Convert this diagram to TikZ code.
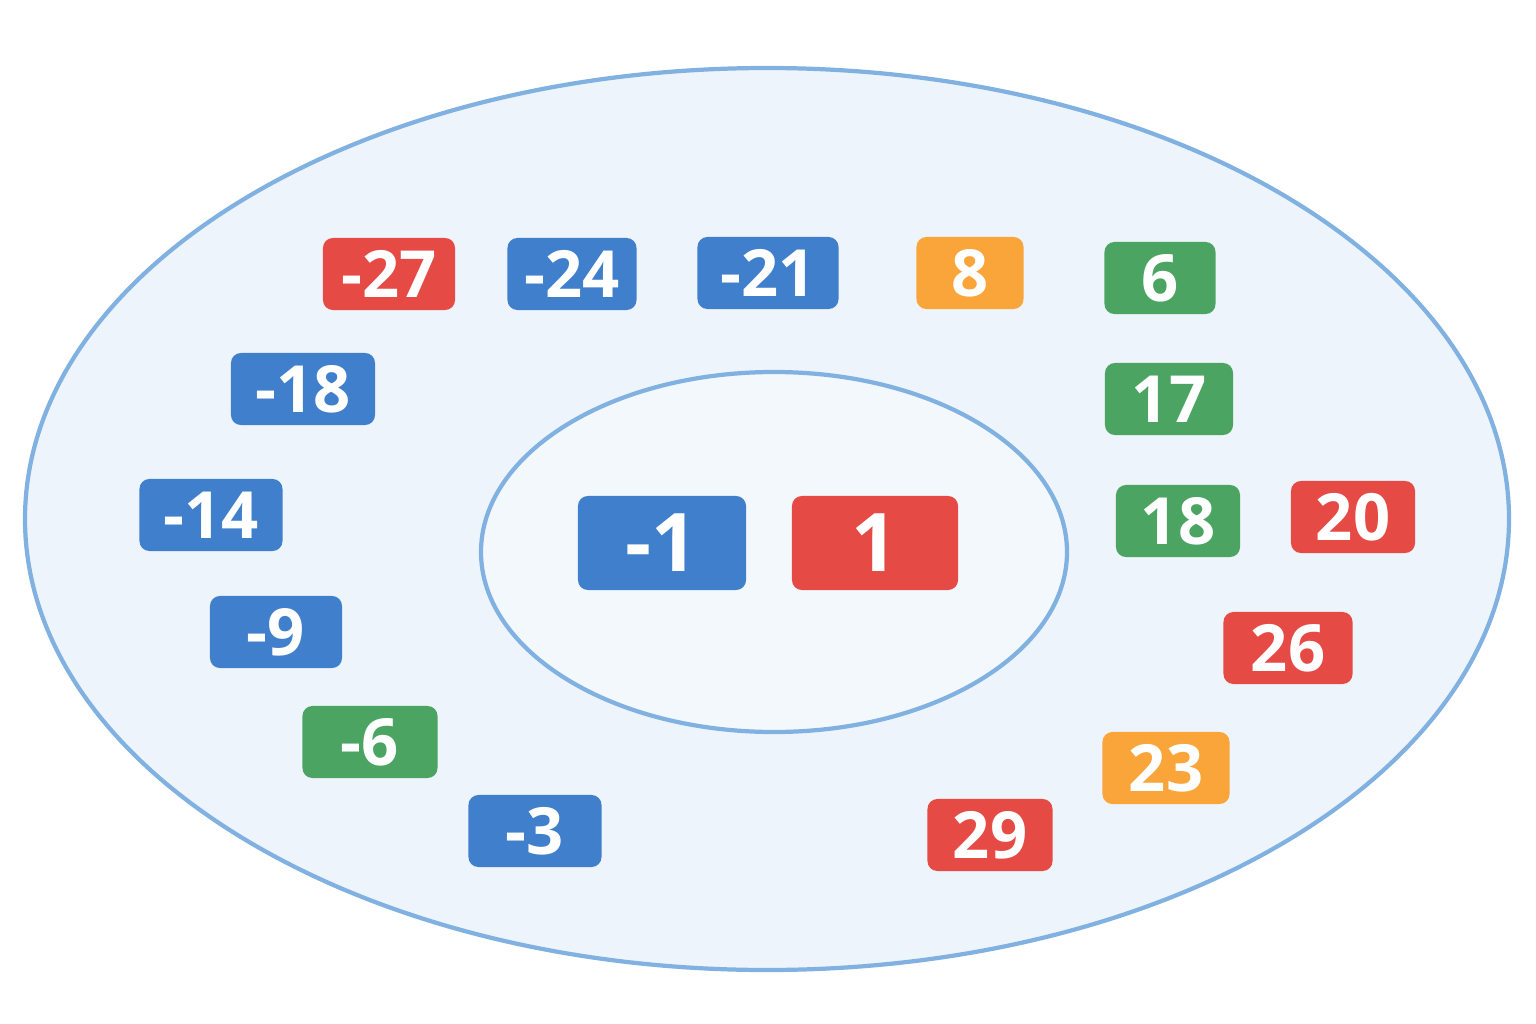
\documentclass[tikz,border=0pt]{standalone}
\usepackage{fontspec}
\setmainfont{Open Sans}
\definecolor{numblue}{HTML}{3F7FCB}
\definecolor{numred}{HTML}{E64A45}
\definecolor{numgreen}{HTML}{4CA463}
\definecolor{numorange}{HTML}{F9A53A}
\definecolor{ringfill}{HTML}{EDF4FC}
\definecolor{corefill}{HTML}{F3F8FD}
\definecolor{ringline}{HTML}{80B1E1}
\begin{document}
\begin{tikzpicture}[x=0.01cm,y=-0.01cm,
  num/.style={rounded corners=0.1cm,text=white,font=\fontsize{18.5}{22}\selectfont\bfseries,
    minimum height=0.72cm,inner sep=0pt},
  big/.style={num,minimum height=0.94cm,font=\fontsize{23}{28}\selectfont\bfseries},
  ring/.style={draw=ringline,line width=1.2pt}]
  \useasboundingbox[fill=white] (0,0) rectangle (1536,1024);
  \draw[ring,fill=ringfill] (767,519) ellipse [x radius=742,y radius=451];
  \draw[ring,fill=corefill] (774,552) ellipse [x radius=293,y radius=180];
  % top row
  \node [num,fill=numred,minimum width=1.32cm] (m27) at (389,274) {-27};
  \node [num,fill=numblue,minimum width=1.29cm] (m24) at (572,274) {-24};
  \node [num,fill=numblue,minimum width=1.41cm] (m21) at (768,273) {-21};
  \node [num,fill=numorange,minimum width=1.07cm] (p8) at (970,273) {8};
  \node [num,fill=numgreen,minimum width=1.11cm] (p6) at (1160,278) {6};
  % left side
  \node [num,fill=numblue,minimum width=1.44cm] (m18) at (303,389) {-18};
  \node [num,fill=numblue,minimum width=1.43cm] (m14) at (211,515) {-14};
  \node [num,fill=numblue,minimum width=1.32cm] (m9) at (276,632) {-9};
  \node [num,fill=numgreen,minimum width=1.35cm] (m6) at (370,742) {-6};
  \node [num,fill=numblue,minimum width=1.33cm] (m3) at (535,831) {-3};
  % right side
  \node [num,fill=numgreen,minimum width=1.28cm] (p17) at (1169,399) {17};
  \node [num,fill=numgreen,minimum width=1.24cm] (p18) at (1178,521) {18};
  \node [num,fill=numred,minimum width=1.24cm] (p20) at (1353,517) {20};
  \node [num,fill=numred,minimum width=1.29cm] (p26) at (1288,648) {26};
  \node [num,fill=numorange,minimum width=1.27cm] (p23) at (1166,768) {23};
  \node [num,fill=numred,minimum width=1.25cm] (p29) at (990,835) {29};
  % centre
  \node [big,fill=numblue,minimum width=1.68cm] (m1) at (662,543) {-1};
  \node [big,fill=numred,minimum width=1.66cm] (p1) at (875,543) {1};
\end{tikzpicture}
\end{document}
